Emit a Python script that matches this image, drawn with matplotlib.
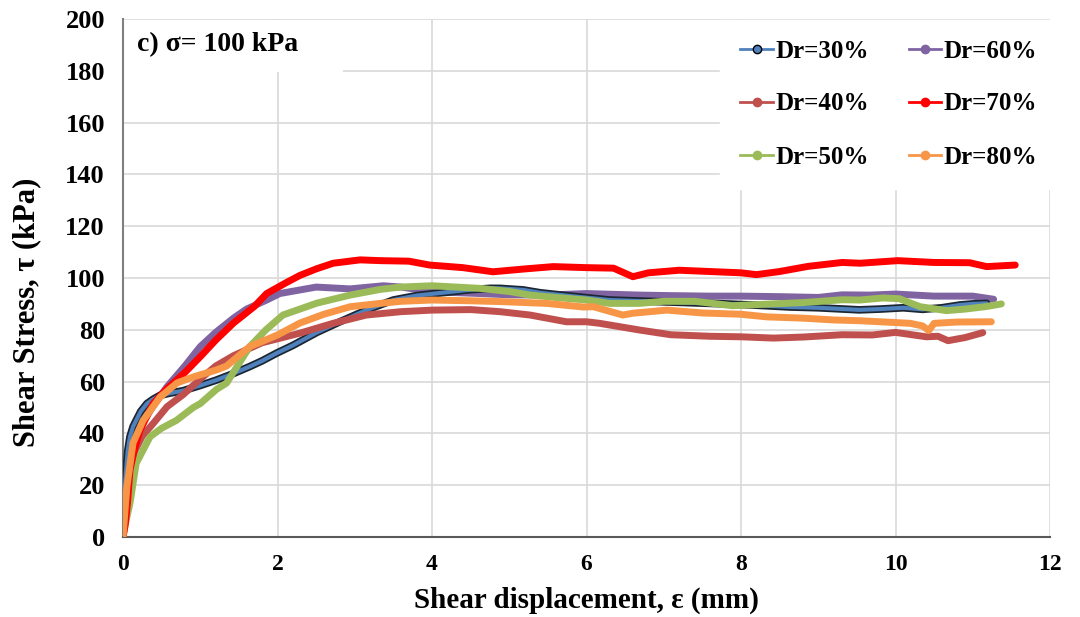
import matplotlib
matplotlib.use("Agg")
import matplotlib.pyplot as plt
from matplotlib.lines import Line2D
from matplotlib.patches import Rectangle
import matplotlib.patheffects as pe

plt.rcParams['font.family'] = ['Liberation Serif', 'DejaVu Serif']
plt.rcParams['font.weight'] = 'bold'

labels = ["Dr=30%", "Dr=40%", "Dr=50%", "Dr=60%", "Dr=70%", "Dr=80%"]
colors = ["#4f81bd", "#c0504d", "#9bbb59", "#8064a2", "#ff0000", "#f79646"]

x30 = [0, 0.01, 0.03, 0.06, 0.09, 0.13, 0.17, 0.23, 0.31, 0.39, 0.48, 0.6, 0.78, 1.0, 1.21, 1.42,
       1.64, 1.8, 1.99, 2.2, 2.51, 2.8, 3.15, 3.5, 3.8, 4.19, 4.5, 4.75, 4.88, 5.18, 5.4, 5.8,
       6.3, 6.8, 7.3, 7.8, 8.2, 8.64, 9.0, 9.53, 9.8, 10.1, 10.35, 10.6, 10.84, 11.0, 11.18]
y30 = [0, 8, 22, 33, 38.7, 42.6, 45, 48.5, 51.5, 53.2, 54.7, 55.5, 56.5, 58.5, 60.6, 63,
       65.8, 68, 71, 74, 79, 83, 87.6, 91.5, 93.2, 94.5, 95.5, 96, 96, 95.4, 94.3, 93,
       91.5, 91, 90.5, 90, 89.5, 88.8, 88.5, 87.7, 88, 88.5, 87.9, 88.5, 89.6, 90, 90.2]

x40 = [0, 0.03, 0.08, 0.15, 0.25, 0.39, 0.57, 0.78, 1.0, 1.2, 1.43, 1.8, 2.29, 2.72, 3.15, 3.6,
       4.0, 4.5, 4.88, 5.27, 5.74, 6.0, 6.17, 6.69, 7.09, 7.6, 8.0, 8.42, 8.8, 9.31, 9.7, 10.0,
       10.4, 10.55, 10.68, 10.9, 11.13]
y40 = [0, 12, 24, 33, 39, 43.8, 50.3, 55, 61, 66, 70, 75, 78.7, 82.5, 85.7, 87,
       87.6, 87.8, 87, 85.7, 83.1, 83.1, 82.5, 79.9, 78.1, 77.5, 77.3, 76.8, 77.2, 78.1, 78, 79,
       77.3, 77.5, 75.8, 77, 78.9]

x50 = [0, 0.03, 0.09, 0.17, 0.35, 0.5, 0.69, 0.91, 1.0, 1.21, 1.34, 1.64, 1.85, 2.07, 2.51,
       2.94, 3.33, 3.59, 4.0, 4.62, 5.0, 5.27, 5.6, 6.0, 6.3, 6.69, 7.0, 7.4, 7.89, 8.4, 8.8,
       9.31, 9.54, 9.84, 10.05, 10.32, 10.66, 10.9, 11.18, 11.37]
y50 = [0, 5, 13, 28.4, 38.7, 42, 45, 50, 51.5, 57, 59.4, 73.5, 80, 85.7, 90.3,
       93.4, 95.6, 96.5, 97, 96, 94.8, 93.4, 92.5, 91.5, 90.2, 90.2, 91, 91, 89.3, 90, 90.5,
       91.6, 91.5, 92.3, 92, 88.9, 87.4, 88, 89, 90]

x60 = [0, 0.03, 0.08, 0.15, 0.25, 0.4, 0.57, 0.8, 1.0, 1.2, 1.43, 1.6, 1.86, 2.03, 2.5, 2.94,
       3.37, 3.6, 4.0, 4.62, 5.0, 5.48, 6.0, 6.69, 7.09, 7.6, 8.0, 8.5, 9.0, 9.31, 9.67, 10.0,
       10.5, 11.0, 11.27]
y60 = [0, 15, 27, 37, 44, 51, 58, 66, 73.5, 79, 84.5, 88, 91.5, 94, 96.5, 95.8,
       97, 96.5, 94.7, 94, 93.5, 93.4, 94, 93.4, 93.2, 93, 93, 92.8, 92.5, 93.5, 93.4, 93.8,
       93, 93, 91.8]

x70 = [0, 0.03, 0.06, 0.09, 0.15, 0.22, 0.39, 0.56, 0.8, 1.0, 1.2, 1.43, 1.7, 1.86, 2.1, 2.29,
       2.5, 2.72, 3.07, 3.33, 3.7, 3.97, 4.4, 4.79, 5.2, 5.57, 6.0, 6.35, 6.6, 6.8, 7.2, 7.6,
       8.0, 8.2, 8.5, 8.87, 9.31, 9.54, 10.03, 10.5, 10.96, 11.18, 11.55]
y70 = [0, 5, 14, 25.8, 34, 41.2, 51.5, 57, 63.5, 69.6, 76, 82.6, 89, 94, 98, 101,
       103.5, 105.7, 107, 106.7, 106.5, 105, 104, 102.4, 103.5, 104.4, 104, 103.8, 100.5, 102,
       103, 102.5, 102, 101.3, 102.5, 104.5, 106, 105.7, 106.7, 106, 105.9, 104.4, 105]

x80 = [0, 0.02, 0.05, 0.13, 0.26, 0.48, 0.7, 0.91, 1.21, 1.34, 1.64, 2.0, 2.29, 2.6, 2.94, 3.33,
       3.6, 4.0, 4.5, 4.88, 5.48, 5.96, 6.09, 6.47, 6.6, 7.04, 7.5, 8.0, 8.33, 8.8, 9.2, 9.54,
       10.19, 10.35, 10.43, 10.5, 10.8, 11.24]
y80 = [0, 8, 19.3, 36.3, 45, 54, 59.5, 61.8, 64.5, 66, 73.5, 78, 82.6, 86, 88.9, 90.2,
       91, 91.5, 91.2, 90.9, 90.2, 88.8, 88.9, 85.7, 86.4, 87.6, 86.5, 86, 85, 84.5, 83.8, 83.5,
       82.5, 81.5, 79.7, 82.5, 83, 83.1]

xs = [x30, x40, x50, x60, x70, x80]
ys = [y30, y40, y50, y60, y70, y80]
zorders = [3, 4, 5, 2, 6, 7]

xticks = [0, 2, 4, 6, 8, 10, 12]
yticks = [0, 20, 40, 60, 80, 100, 120, 140, 160, 180, 200]

fig = plt.figure(figsize=(10.8, 6.17), dpi=100)
ax = fig.add_axes([123 / 1080, 1 - 537 / 617, 927 / 1080, 518 / 617])

for i in range(6):
    if i == 0:
        ax.plot(xs[i], ys[i], color=colors[i], lw=3.0, zorder=zorders[i],
                solid_capstyle='round', solid_joinstyle='round',
                path_effects=[pe.withStroke(linewidth=5.5, foreground='#1c2633')])
    else:
        ax.plot(xs[i], ys[i], color=colors[i], lw=5, zorder=zorders[i],
                solid_capstyle='round', solid_joinstyle='round')

ax.set_xlim(0, 12)
ax.set_ylim(0, 200)
ax.set_xticks(xticks)
ax.set_yticks(yticks)
ax.grid(True, color='#d9d9d9', lw=1.2, zorder=0)
ax.set_axisbelow(True)
for s in ['top', 'right']:
    ax.spines[s].set_visible(False)
ax.spines['left'].set_color('#808080')
ax.spines['left'].set_linewidth(1.5)
ax.spines['bottom'].set_color('#595959')
ax.spines['bottom'].set_linewidth(1.5)
ax.tick_params(axis='both', length=0)
ax.tick_params(axis='y', labelsize=19, pad=13)
ax.tick_params(axis='x', labelsize=17, pad=12)
for lab in ax.get_xticklabels() + ax.get_yticklabels():
    lab.set_fontweight('bold')

ax.set_xlabel("Shear displacement, ε (mm)", fontsize=21, fontweight='bold', labelpad=9)
ax.set_ylabel("Shear Stress, τ (kPa)", fontsize=22, fontweight='bold')
ax.yaxis.set_label_coords(-0.088, 0.434)

# title box
ax.add_patch(Rectangle((0, (537 - 72) / 518), (343 - 123) / 927, (72 - 20) / 518,
                       transform=ax.transAxes, facecolor='white', edgecolor='none', zorder=1.5))
ax.text((137 - 123) / 927, (537 - 45) / 518, "c) σ= 100 kPa", transform=ax.transAxes,
        fontsize=20, fontweight='bold', ha='left', va='center', zorder=8)

handles = []
for i in range(6):
    if i == 0:
        h = Line2D([], [], color=colors[i], lw=2, marker='o', markersize=6,
                   markerfacecolor=colors[i], markeredgecolor='black', markeredgewidth=1)
    else:
        h = Line2D([], [], color=colors[i], lw=2, marker='o', markersize=6,
                   markerfacecolor=colors[i], markeredgecolor=colors[i])
    handles.append(h)

leg = ax.legend(handles, labels, ncol=2, loc='upper right',
                bbox_to_anchor=(1070 / 1080, 1 - 7 / 617), bbox_transform=fig.transFigure,
                prop={'family': 'Liberation Serif', 'weight': 'bold', 'size': 18},
                numpoints=1, handlelength=1.3, handletextpad=0.1, columnspacing=1.6,
                labelspacing=1.2, borderpad=0.8, frameon=True, fancybox=False,
                facecolor='white', edgecolor='white', framealpha=1)
leg.set_zorder(10)

fig.savefig("out.png", dpi=100)
